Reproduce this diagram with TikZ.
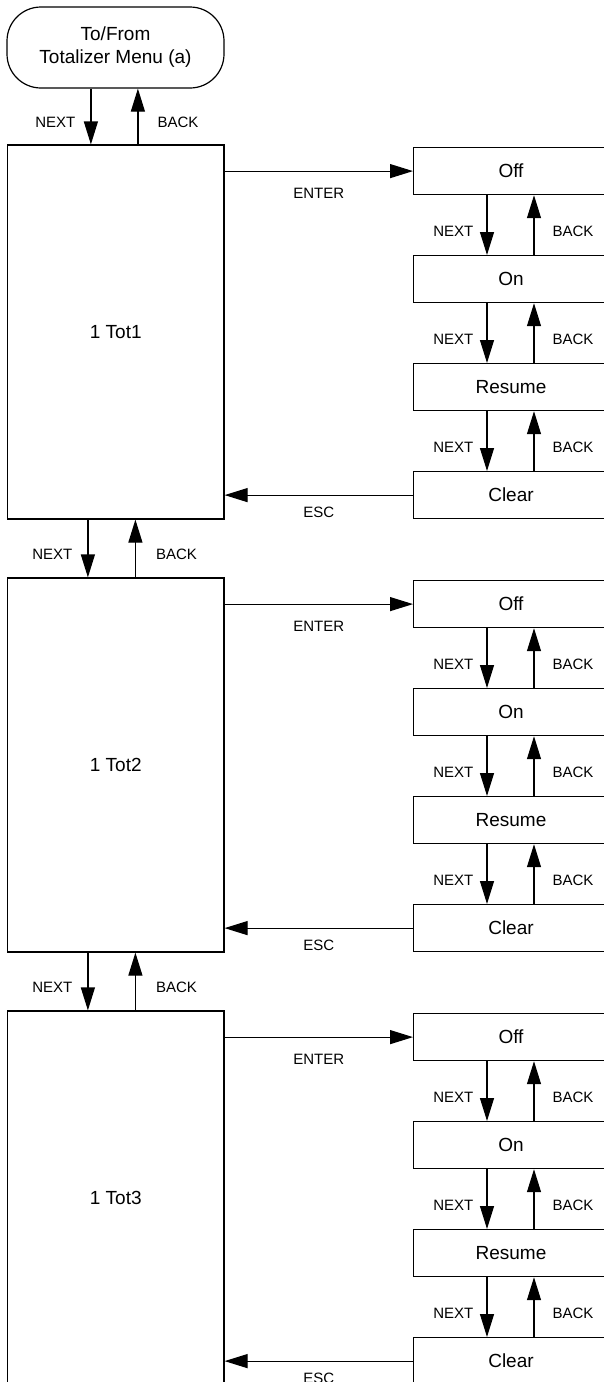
\documentclass[tikz,border=0pt]{standalone}
\usepackage{fontspec}
\setmainfont{Liberation Sans}
\usetikzlibrary{arrows.meta,calc}
\begin{document}
\begin{tikzpicture}[x=1pt,y=-1pt,line width=1.2pt,
  arr/.style={-{Triangle[length=23pt,width=14pt]}},
  bigbox/.style={draw,minimum width=216.5pt,minimum height=374pt,inner sep=0pt,font=\fontsize{19}{22}\selectfont},
  smallbox/.style={draw,minimum width=230pt,minimum height=47pt,inner sep=0pt,font=\fontsize{19}{22}\selectfont},
  lbl/.style={inner sep=0pt,font=\fontsize{15}{17}\selectfont},
  term/.style={draw,rounded corners=34pt,minimum width=217pt,minimum height=81pt,inner sep=0pt,align=center,font=\fontsize{19}{23}\selectfont}]
\useasboundingbox (0,0) rectangle (604,1382);
\clip (0,0) rectangle (604,1382);
\node[term] (t) at (115.5,47.5) {To/From\\Totalizer Menu (a)};
\foreach \i/\dy in {1/0,2/433,3/866}{
  \node[bigbox] (tot\i) at (115.75,332+\dy) {1 Tot\i};
  \node[smallbox,anchor=north west] (off\i) at (413,147+\dy) {};
  \node at ($(off\i.west)+(98,0)$) [font=\fontsize{19}{22}\selectfont] {Off};
  \node[smallbox,anchor=north west] (on\i) at (413,255+\dy) {};
  \node at ($(on\i.west)+(98,0)$) [font=\fontsize{19}{22}\selectfont] {On};
  \node[smallbox,anchor=north west] (res\i) at (413,363+\dy) {};
  \node at ($(res\i.west)+(98,0)$) [font=\fontsize{19}{22}\selectfont] {Resume};
  \node[smallbox,anchor=north west] (clr\i) at (413,471+\dy) {};
  \node at ($(clr\i.west)+(98,0)$) [font=\fontsize{19}{22}\selectfont] {Clear};
  \draw[arr] (tot\i.east |- off\i.west) -- node[lbl,below=16pt]{ENTER} (off\i.west);
  \draw[arr] (clr\i.west) -- node[lbl,below=11pt]{ESC} (clr\i.west -| tot\i.east);
  \foreach \a/\b in {off/on,on/res,res/clr}{
    \draw[arr] ([xshift=74pt]\a\i.south west) -- node[lbl,left=13pt,pos=0.6]{NEXT} ([xshift=74pt]\b\i.north west);
    \draw[arr] ([xshift=121pt]\b\i.north west) -- node[lbl,right=18pt,pos=0.4]{BACK} ([xshift=121pt]\a\i.south west);
  }
}
\draw[arr] ([xshift=84pt]tot1.north west |- t.south) -- node[lbl,left=15pt,pos=0.6]{NEXT} ([xshift=84pt]tot1.north west);
\draw[arr] ([xshift=131pt]tot1.north west) -- node[lbl,right=19pt,pos=0.4]{BACK} ([xshift=131pt]tot1.north west |- t.south);
\foreach \i/\j in {1/2,2/3}{
  \draw[arr] ([xshift=81pt]tot\i.south west) -- node[lbl,left=15pt,pos=0.6]{NEXT} ([xshift=81pt]tot\j.north west);
  \draw[arr] ([xshift=128.5pt]tot\j.north west) -- node[lbl,right=20pt,pos=0.4]{BACK} ([xshift=128.5pt]tot\i.south west);
}
\end{tikzpicture}
\end{document}
